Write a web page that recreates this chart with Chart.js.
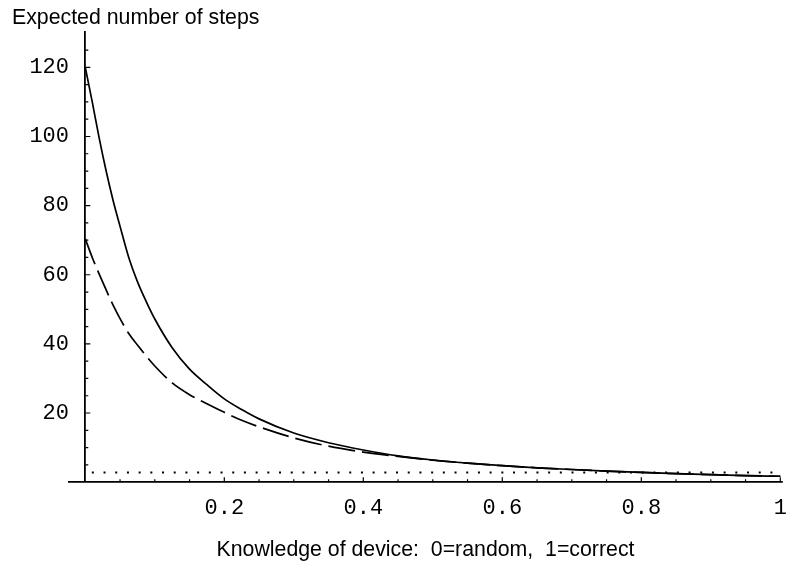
<!DOCTYPE html>
<html>
<head>
<meta charset="utf-8">
<script src="https://cdn.jsdelivr.net/npm/chart.js@4/dist/chart.umd.min.js"></script>
<style>
  html, body { margin: 0; padding: 0; background: #fff; }
  #wrap { width: 787px; height: 563px; position: relative; }
</style>
</head>
<body>
<div id="wrap"><canvas id="chart"></canvas></div>
<script>
// values
const xSolid = [0, 0.01, 0.02, 0.03, 0.04, 0.05, 0.0625, 0.075, 0.0875, 0.1, 0.125, 0.15, 0.175, 0.2, 0.225, 0.25, 0.3, 0.35, 0.4, 0.45, 0.5, 0.55, 0.6, 0.65, 0.7, 0.75, 0.8, 0.85, 0.9, 0.95, 1];
const ySolid = [120, 110, 99.5, 90, 81.5, 74, 65, 58, 52.3, 47.2, 38.9, 32.7, 28.2, 24.1, 21, 18.3, 14.2, 11.4, 9.3, 7.6, 6.4, 5.5, 4.75, 4.15, 3.65, 3.2, 2.8, 2.45, 2.15, 1.9, 1.7];

const xDashed = [0, 0.01, 0.02, 0.03, 0.04, 0.05, 0.0625, 0.075, 0.0875, 0.1, 0.125, 0.15, 0.175, 0.2, 0.225, 0.25, 0.3, 0.35, 0.4, 0.45, 0.5, 0.55, 0.6, 0.65, 0.7, 0.75, 0.8, 0.85, 0.9, 0.95, 1];
const yDashed = [70.4, 65, 60.2, 55.6, 51.2, 47.3, 43, 39.7, 36.5, 33.6, 28.7, 25.3, 22.7, 20.2, 17.9, 16, 12.8, 10.4, 8.7, 7.45, 6.35, 5.5, 4.75, 4.15, 3.65, 3.2, 2.8, 2.45, 2.15, 1.9, 1.7];

const xDotted = [0.0094, 1];
const yDotted = [2.8, 2.8];

// ticks
const xTickValues = [0, 0.05, 0.1, 0.15, 0.2, 0.25, 0.3, 0.35, 0.4, 0.45, 0.5, 0.55, 0.6, 0.65, 0.7, 0.75, 0.8, 0.85, 0.9, 0.95, 1];
const xMajorTicks = [0.2, 0.4, 0.6, 0.8, 1];
const xTickLabels = ['0.2', '0.4', '0.6', '0.8', '1'];
const yTickValues = [5, 10, 15, 20, 25, 30, 35, 40, 45, 50, 55, 60, 65, 70, 75, 80, 85, 90, 95, 100, 105, 110, 115, 120, 125];
const yMajorTicks = [20, 40, 60, 80, 100, 120];
const yTickLabels = ['20', '40', '60', '80', '100', '120'];

const toPoints = (xs, ys) => xs.map((x, i) => ({ x: x, y: ys[i] }));

const monoFont = { family: '"Liberation Mono", "Courier New", monospace', size: 22 };
const sansFont = { family: '"Liberation Sans", Arial, Helvetica, sans-serif', size: 21.3 };

// Mathematica-style tick marks pointing into the plot
const inwardTicks = {
  id: 'inwardTicks',
  afterDatasetsDraw(chart) {
    const { ctx, scales: { x, y } } = chart;
    const x0 = x.getPixelForValue(0);
    const y0 = y.getPixelForValue(0);
    ctx.save();
    ctx.strokeStyle = '#000';
    ctx.lineWidth = 1.2;
    ctx.beginPath();
    xTickValues.forEach(v => {
      if (v === 0) return;
      const px = x.getPixelForValue(v);
      const len = xMajorTicks.includes(v) ? 5 : 3;
      ctx.moveTo(px, y0);
      ctx.lineTo(px, y0 - len);
    });
    yTickValues.forEach(v => {
      const py = y.getPixelForValue(v);
      const len = yMajorTicks.includes(v) ? 5 : 3;
      ctx.moveTo(x0, py);
      ctx.lineTo(x0 + len, py);
    });
    ctx.stroke();
    ctx.restore();
  }
};

new Chart(document.getElementById('chart'), {
  type: 'scatter',
  data: {
    datasets: [
      {
        data: toPoints(xSolid, ySolid),
        showLine: true,
        borderColor: '#000',
        borderWidth: 1.7,
        pointRadius: 0,
        cubicInterpolationMode: 'monotone'
      },
      {
        data: toPoints(xDashed, yDashed),
        showLine: true,
        borderColor: '#000',
        borderWidth: 1.7,
        borderDash: [27, 7],
        pointRadius: 0,
        cubicInterpolationMode: 'monotone'
      },
      {
        data: toPoints(xDotted, yDotted),
        showLine: true,
        borderColor: '#000',
        borderWidth: 2,
        borderDash: [2, 9.7],
        pointRadius: 0
      }
    ]
  },
  options: {
    responsive: true,
    maintainAspectRatio: false,
    animation: false,
    layout: { padding: { left: 12, right: 5, top: 0, bottom: 0 } },
    plugins: {
      legend: { display: false },
      tooltip: { enabled: false },
      title: {
        display: true,
        text: 'Expected number of steps',
        align: 'start',
        color: '#000',
        font: { ...sansFont, weight: 'normal' },
        padding: { top: 5, bottom: 0.5 }
      }
    },
    scales: {
      x: {
        type: 'linear',
        min: -0.02345,
        max: 1.00245,
        border: { display: true, color: '#000', width: 1.8 },
        grid: {
          display: true,
          drawOnChartArea: true,
          drawTicks: false,
          lineWidth: 1.8,
          color: c => (c.tick && c.tick.value === 0) ? '#000' : 'rgba(0,0,0,0)'
        },
        afterBuildTicks: s => { s.ticks = xTickValues.map(v => ({ value: v })); },
        afterFit: s => { s.paddingLeft = 0; s.paddingRight = 0; },
        ticks: {
          autoSkip: false,
          maxRotation: 0,
          color: '#000',
          font: monoFont,
          padding: 12.8,
          callback: v => {
            const i = xMajorTicks.indexOf(v);
            return i >= 0 ? xTickLabels[i] : '';
          }
        },
        title: {
          display: true,
          text: 'Knowledge of device:  0=random,  1=correct',
          color: '#000',
          font: sansFont,
          padding: { top: 2.9, bottom: 0.4 }
        }
      },
      y: {
        type: 'linear',
        position: 'left',
        min: 0,
        max: 130.5,
        border: { display: false },
        grid: { display: false, drawTicks: false },
        afterBuildTicks: s => { s.ticks = yTickValues.map(v => ({ value: v })); },
        afterFit: s => { s.width = 57; s.paddingTop = 0; s.paddingBottom = 0; },
        ticks: {
          autoSkip: false,
          color: '#000',
          font: monoFont,
          padding: 0,
          callback: v => {
            const i = yMajorTicks.indexOf(v);
            return i >= 0 ? yTickLabels[i] : '';
          }
        }
      }
    }
  },
  plugins: [inwardTicks]
});
</script>
</body>
</html>
